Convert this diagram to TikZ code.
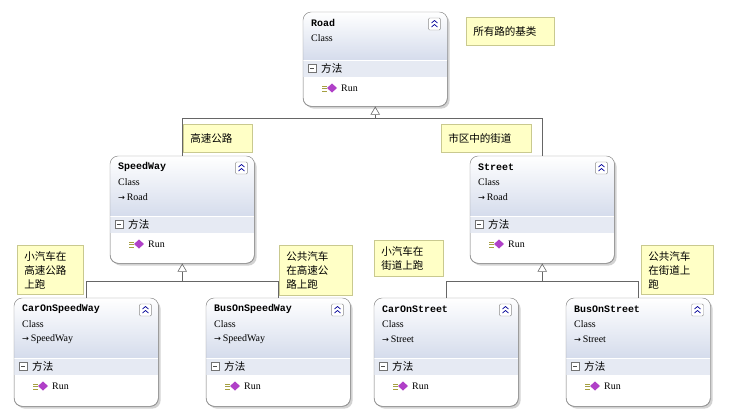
\documentclass[tikz,border=0pt]{standalone}
\usepackage{fontspec}
\setmainfont{Liberation Serif}
\newfontfamily\cjk{Noto Sans CJK SC}
\newfontfamily\symfont{DejaVu Sans}
\newfontfamily\titlefont{Liberation Mono}
\usetikzlibrary{arrows.meta, positioning, calc, shadows}
\definecolor{boxline}{HTML}{8C8C8C}
\definecolor{headblue}{HTML}{D5DCEC}
\definecolor{bandblue}{HTML}{E6EAF3}
\definecolor{noteyellow}{HTML}{FFFFC6}
\definecolor{noteline}{HTML}{C9C98F}
\definecolor{runpurple}{HTML}{B040C8}

\tikzset{
    classbox/.style={rectangle, draw=boxline, rounded corners=7pt, fill=white, minimum width=4.32cm,
        drop shadow={shadow xshift=2pt, shadow yshift=-2pt, fill=black!35}, anchor=north west},
    note/.style={rectangle, draw=noteline, fill=noteyellow, align=left, anchor=north west,
        font=\cjk\fontsize{9}{12}\selectfont, inner xsep=6pt, inner ysep=5pt},
    oneline/.style={minimum height=28*0.03cm},
    inherit/.style={draw=black!60, line width=0.5pt},
    boxtext/.style={anchor=west, inner sep=0pt, font=\fontsize{8.5}{10}\selectfont}
}

% name, x, y, height, title, parent
\newcommand\classbox[6]{%
    \if\relax\detokenize{#6}\relax\def\bandy{48}\else\def\bandy{60}\fi
    \node[classbox, minimum height=#4*0.03cm] (#1) at (#2,#3) {};
    \begin{scope}
        \clip[rounded corners=7pt] (#1.north west) rectangle (#1.south east);
        \shade[top color=white, bottom color=headblue] (#1.north west) rectangle ($(#1.north east)+(0,\bandy)$);
        \fill[bandblue] ($(#1.north west)+(0,\bandy)$) rectangle ($(#1.north east)+(0,\bandy+17)$);
        \draw[white] ($(#1.north west)+(0,\bandy)$) -- ($(#1.north east)+(0,\bandy)$);
    \end{scope}
    \draw[boxline, rounded corners=7pt] (#1.north west) rectangle (#1.south east);
    % collapse button
    \draw[draw=black!45, fill=white, rounded corners=1pt] ($(#1.north east)+(-19,6)$) rectangle ++(12,12);
    \draw[blue!60!black, line width=0.6pt] ($(#1.north east)+(-16,11)$) -- ++(3,-2.5) -- ++(3,2.5)
        ($(#1.north east)+(-16,15)$) -- ++(3,-2.5) -- ++(3,2.5);
    \path (#1.north west) ++(8,11) node[boxtext, font=\titlefont\bfseries\fontsize{8.5}{10}\selectfont] {#5};
    \path (#1.north west) ++(8,26) node[boxtext] {Class};
    \if\relax\detokenize{#6}\relax\else
        \path (#1.north west) ++(8,41) node[boxtext] {{\symfont\fontsize{7}{8}\selectfont →}\,#6};
    \fi
    % methods band
    \draw[black!55, fill=white] ($(#1.north west)+(5,\bandy+4.5)$) rectangle ++(8,8);
    \draw[black!70] ($(#1.north west)+(7,\bandy+8.5)$) -- ++(4,0);
    \path (#1.north west) ++(18,\bandy+8.5) node[boxtext, font=\cjk\fontsize{9}{10}\selectfont] {方法};
    % run icon
    \draw[yellow!60!black, line width=0.4pt] ($(#1.north west)+(19,\bandy+26)$) -- ++(5,0)
        ($(#1.north west)+(19,\bandy+28.5)$) -- ++(5,0) ($(#1.north west)+(19,\bandy+31)$) -- ++(5,0);
    \fill[runpurple] ($(#1.north west)+(29,\bandy+23.5)$) -- ++(5,4.5) -- ++(-5,4.5) -- ++(-5,-4.5) -- cycle;
    \path (#1.north west) ++(38,\bandy+28.5) node[boxtext] {Run};
}

\begin{document}
\begin{tikzpicture}[x=0.03cm, y=-0.03cm]
    \useasboundingbox[fill=white] (0,0) rectangle (729,417);

    % base class
    \classbox{road}{303}{12}{94}{Road}{}

    % second level
    \classbox{speedway}{110}{156}{107}{SpeedWay}{Road}
    \classbox{street}{470}{156}{107}{Street}{Road}

    % third level
    \classbox{carspeed}{14}{298}{108}{CarOnSpeedWay}{SpeedWay}
    \classbox{busspeed}{206}{298}{108}{BusOnSpeedWay}{SpeedWay}
    \classbox{carstreet}{374}{298}{108}{CarOnStreet}{Street}
    \classbox{busstreet}{566}{298}{108}{BusOnStreet}{Street}

    % inheritance lines
    \coordinate (roadbus) at ($(road.south)+(0,12)$);
    \draw[inherit] (speedway.north) |- (roadbus) -| (street.north);
    \draw[inherit, -{Triangle[open, length=7pt, width=8pt]}] (roadbus) -- (road.south);

    \coordinate (speedbus) at ($(speedway.south)+(0,18)$);
    \draw[inherit] (carspeed.north) |- (speedbus) -| (busspeed.north);
    \draw[inherit, -{Triangle[open, length=7pt, width=8pt]}] (speedbus) -- (speedway.south);

    \coordinate (streetbus) at ($(street.south)+(0,18)$);
    \draw[inherit] (carstreet.north) |- (streetbus) -| (busstreet.north);
    \draw[inherit, -{Triangle[open, length=7pt, width=8pt]}] (streetbus) -- (street.south);

    % comments
    \node[note, oneline, text width=74*0.03cm] (noteroad) at (466,17) {所有路的基类};
    \node[note, oneline, text width=55*0.03cm] (notespeed) at (183,124) {高速公路};
    \node[note, oneline, text width=76*0.03cm] (notestreet) at (441,124) {市区中的街道};
    \node[note, text width=52*0.03cm] (notecarspeed) at (17,245) {小汽车在\\高速公路\\上跑};
    \node[note, text width=59*0.03cm] (notebusspeed) at (279,245) {公共汽车\\在高速公\\路上跑};
    \node[note, text width=55*0.03cm] (notecarstreet) at (374,240) {小汽车在\\街道上跑};
    \node[note, text width=58*0.03cm] (notebusstreet) at (641,245) {公共汽车\\在街道上\\跑};
\end{tikzpicture}
\end{document}
